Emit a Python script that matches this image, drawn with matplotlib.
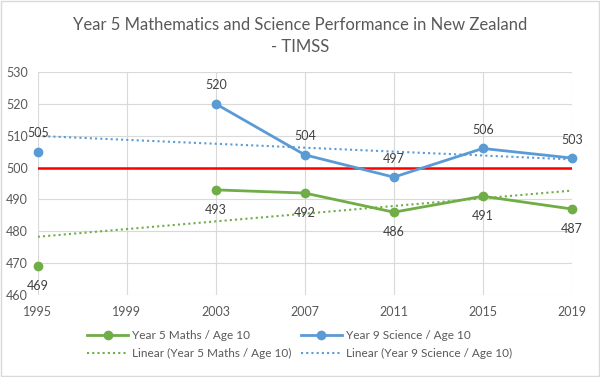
import numpy as np
import matplotlib.pyplot as plt
from matplotlib.patches import Rectangle

years = ['1995', '1999', '2003', '2007', '2011', '2015', '2019']
maths = [469, np.nan, 493, 492, 486, 491, 487]
science = [505, np.nan, 520, 504, 497, 506, 503]
benchmark = 500

green = '#70AD47'
blue = '#5B9BD5'
grey_text = '#595959'

plt.rcParams['font.family'] = ['Lato', 'DejaVu Sans']

fig = plt.figure(figsize=(6, 3.77), dpi=100)
ax = fig.add_axes([0.063, 0.2175, 0.89, 0.5915])

x = np.arange(len(years))
m = np.array(maths, dtype=float)
s = np.array(science, dtype=float)

# red 500 reference line
ax.plot(x, [benchmark] * len(x), color='#FF0000', lw=1.8, zorder=2)

# linear trendlines (Excel style, fitted on category index)
def trend(vals):
    ok = ~np.isnan(vals)
    k, b = np.polyfit(x[ok], vals[ok], 1)
    return k * x + b

ax.plot(x, trend(m), color=green, lw=1.5, ls=(0, (1, 1.5)), zorder=3,
        label='Linear (Year 5 Maths / Age 10)')
ax.plot(x, trend(s), color=blue, lw=1.5, ls=(0, (1, 1.5)), zorder=3,
        label='Linear (Year 9 Science / Age 10)')

for vals, col, lab in [(m, green, 'Year 5 Maths / Age 10'), (s, blue, 'Year 9 Science / Age 10')]:
    ax.plot(x, vals, color=col, lw=2, marker='o', ms=6, zorder=4, label=lab, clip_on=False)

for i in range(len(x)):
    if not np.isnan(m[i]):
        ax.annotate(str(int(m[i])), (x[i], m[i]), xytext=(0, -10), textcoords='offset points',
                    ha='center', va='top', fontsize=9, color='#404040')
    if not np.isnan(s[i]):
        ax.annotate(str(int(s[i])), (x[i], s[i]), xytext=(0, 9), textcoords='offset points',
                    ha='center', va='bottom', fontsize=9, color='#404040')

ax.set_xlim(0, len(years) - 1)
ax.set_ylim(460, 530)
ax.set_xticks(x)
ax.set_xticklabels(years)
ax.set_yticks(range(460, 531, 10))
ax.tick_params(length=0, labelsize=9, colors=grey_text, pad=8)
ax.tick_params(axis='y', pad=7)
ax.grid(True, color='#D9D9D9', lw=0.8)
ax.set_axisbelow(True)
for sp in ax.spines.values():
    sp.set_visible(False)

fig.text(0.5, 0.955, 'Year 5 Mathematics and Science Performance in New Zealand\n- TIMSS',
         ha='center', va='top', fontsize=12, color=grey_text, linespacing=1.45)

h, l = ax.get_legend_handles_labels()
order = [2, 0, 3, 1]
ax.legend([h[i] for i in order], [l[i] for i in order], ncol=2, loc='upper center',
          bbox_to_anchor=(0.49, -0.11), frameon=False, fontsize=8.5, labelcolor=grey_text,
          handlelength=3.5, columnspacing=0.8, handletextpad=0.3, labelspacing=0.6)

fig.add_artist(Rectangle((0.002, 0.003), 0.996, 0.994, transform=fig.transFigure,
                         fill=False, edgecolor='#D9D9D9', lw=1))

fig.savefig('out.png', dpi=100)
